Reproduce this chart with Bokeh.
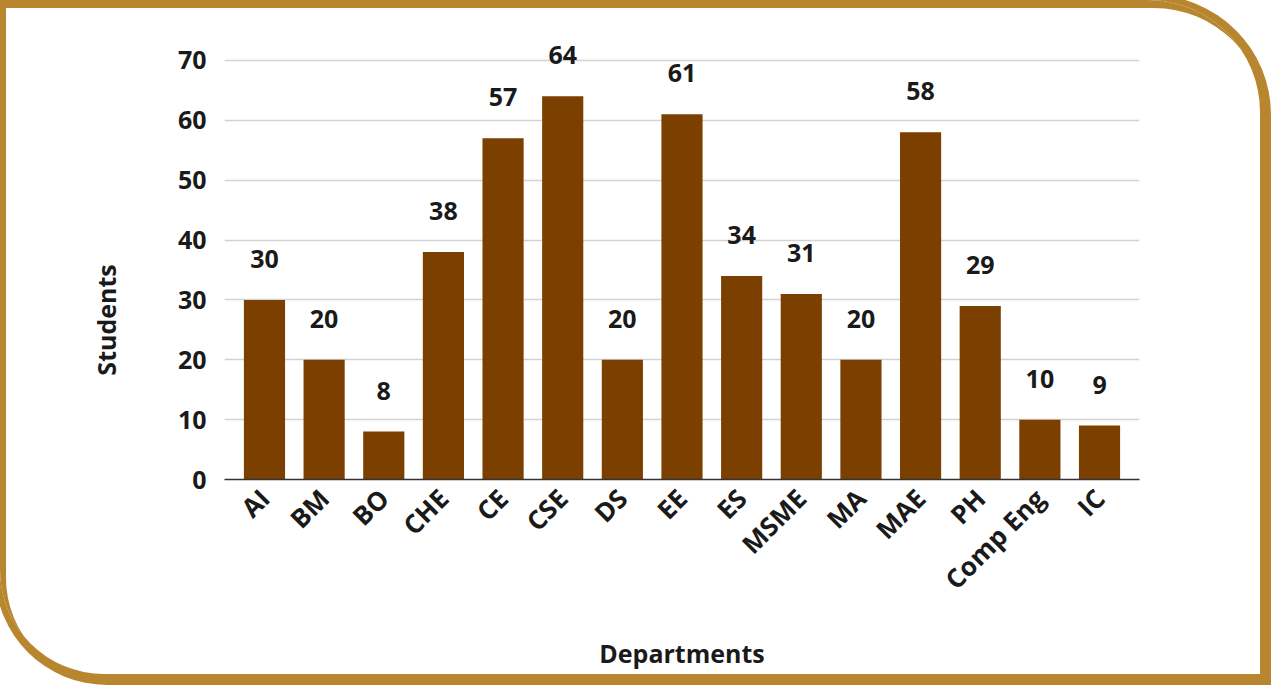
import math
from bokeh.plotting import figure
from bokeh.models import ColumnDataSource, FactorRange, Range1d, SingleIntervalTicker
from bokeh.core.properties import value
from bokeh.embed import file_html
from bokeh.resources import INLINE

departments = ["AI", "BM", "BO", "CHE", "CE", "CSE", "DS", "EE", "ES", "MSME",
               "MA", "MAE", "PH", "Comp Eng", "IC"]
students = [30, 20, 8, 38, 57, 64, 20, 61, 34, 31, 20, 58, 29, 10, 9]
labels = [str(v) for v in students]

FONT = "Open Sans"
TEXT = "#1a1a1a"
BAR = "#7B3F00"
GOLD = "#B8862E"

src = ColumnDataSource(dict(dept=departments, students=students, label=labels))

W, H = 1260, 674
p = figure(
    width=W, height=H,
    x_range=FactorRange(factors=departments, range_padding=0.0227),
    y_range=Range1d(0, 75),
    output_backend="svg", toolbar_location=None,
    min_border_left=224, min_border_right=121,
    min_border_top=30, min_border_bottom=195,
    background_fill_color=None, border_fill_color=None,
)
p.styles = {
    "background-color": "white",
    "box-shadow": f"3px 3px 0 8px {GOLD}, inset 6px 8px 0 0 {GOLD}",
    "border-radius": "0px 112px 0px 104px",
    "overflow": "hidden",
}
p.outline_line_color = None

p.vbar(x="dept", top="students", width=0.69, source=src,
       fill_color=BAR, line_color=None)

p.text(x="dept", y="students", text="label", source=src,
       text_align="center", text_baseline="middle", y_offset=-41,
       text_font=value(FONT), text_font_style="bold",
       text_font_size="25px", text_color=TEXT)

# grid
p.xgrid.grid_line_color = None
p.ygrid.grid_line_color = "#d2d2d2"
p.ygrid.grid_line_width = 1.5

# y axis
ya = p.yaxis[0]
ya.ticker = SingleIntervalTicker(interval=10)
ya.axis_line_color = None
ya.major_tick_line_color = None
ya.minor_tick_line_color = None
ya.major_tick_out = 0
ya.major_label_standoff = 14
ya.major_label_text_font = FONT
ya.major_label_text_font_style = "bold"
ya.major_label_text_font_size = "25px"
ya.major_label_text_color = TEXT
# trailing no-break spaces shift the title below the frame centre, as in the reference
ya.axis_label = "Students" + "\u00a0" * 20
ya.axis_label_standoff = 52
ya.axis_label_text_font = FONT
ya.axis_label_text_font_style = "bold"
ya.axis_label_text_font_size = "25px"
ya.axis_label_text_color = TEXT

# x axis
xa = p.xaxis[0]
xa.axis_line_color = "#333333"
xa.axis_line_width = 1.5
xa.major_tick_line_color = None
xa.minor_tick_line_color = None
xa.major_tick_out = 0
xa.major_label_standoff = 14
xa.major_label_orientation = math.pi / 4
xa.major_label_text_font = FONT
xa.major_label_text_font_style = "bold"
xa.major_label_text_font_size = "26px"
xa.major_label_text_color = TEXT
xa.axis_label = "Departments"
xa.axis_label_standoff = 24
xa.axis_label_text_font = FONT
xa.axis_label_text_font_style = "bold"
xa.axis_label_text_font_size = "25px"
xa.axis_label_text_color = TEXT

open("out.html", "w").write(file_html(p, INLINE))
